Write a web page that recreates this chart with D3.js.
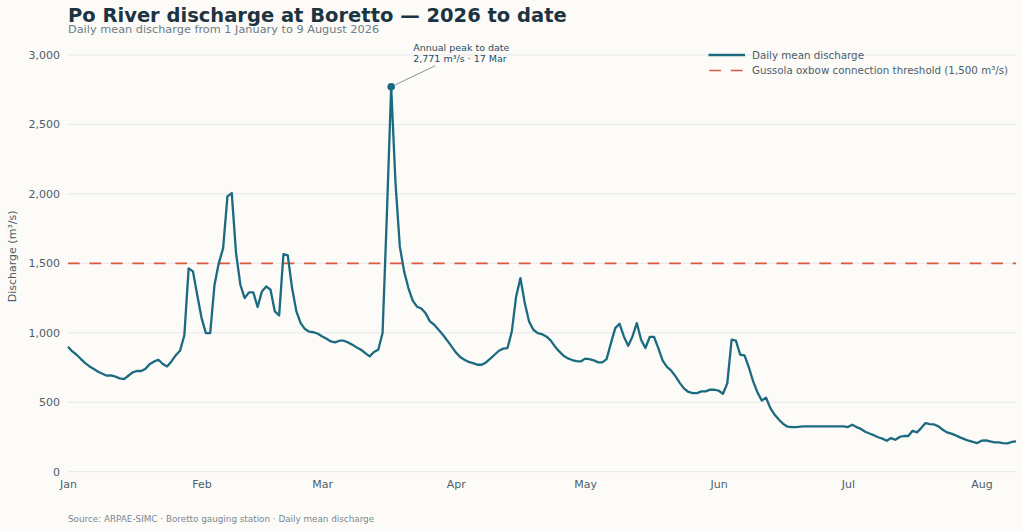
<!DOCTYPE html>
<html>
<head>
<meta charset="utf-8">
<script src="https://cdn.jsdelivr.net/npm/d3@7/dist/d3.min.js"></script>
<style>
  html, body { margin: 0; padding: 0; background: #fcfbf8; }
  svg { display: block; font-family: "DejaVu Sans", sans-serif; }
</style>
</head>
<body>
<script>
// daily mean discharge, m3/s, 1 Jan .. 9 Aug 2026
var startDay = '2026-01-01';
var endDay = '2026-08-09';
var discharge = [
  900, 866, 842, 811, 782, 758, 739, 720, 705, 691, 694, 684, 672, 667, 691, 715,
  725, 725, 742, 775, 794, 806, 775, 758, 794, 838, 871, 982, 1464, 1442, 1270,
  1106, 998, 998, 1346, 1502, 1610, 1982, 2006, 1574, 1346, 1250, 1291, 1291, 1186,
  1298, 1334, 1310, 1154, 1125, 1567, 1557, 1322, 1154, 1070, 1027, 1008, 1004, 993,
  974, 957, 938, 931, 943, 943, 931, 914, 895, 878, 854, 830, 862, 878, 998, 1850,
  2771, 2080, 1622, 1442, 1322, 1232, 1188, 1175, 1140, 1082, 1058, 1022, 986, 945,
  902, 859, 826, 806, 790, 782, 770, 770, 787, 814, 842, 871, 886, 890, 1010, 1262,
  1394, 1214, 1082, 1022, 998, 990, 974, 945, 902, 866, 835, 816, 804, 796, 794,
  814, 811, 802, 787, 787, 811, 926, 1034, 1065, 974, 907, 974, 1070, 950, 890, 970,
  970, 890, 799, 754, 727, 686, 638, 598, 574, 566, 566, 578, 578, 591, 590, 583,
  561, 636, 950, 944, 842, 838, 752, 650, 571, 512, 532, 458, 410, 374, 343, 324,
  321, 321, 324, 326, 326, 326, 326, 326, 326, 326, 326, 326, 326, 321, 338, 321,
  308, 288, 275, 263, 248, 238, 223, 242, 230, 250, 257, 257, 295, 283, 314, 350,
  343, 340, 326, 302, 283, 274, 262, 247, 235, 223, 214, 206, 223, 226, 218, 211,
  211, 206, 204, 214, 218
];
var yTicks = [0, 500, 1000, 1500, 2000, 2500, 3000];
var threshold = 1500;
var legendLabels = ['Daily mean discharge', 'Gussola oxbow connection threshold (1,500 m\u00b3/s)'];

var W = 1023, H = 531;
var plotL = 68, plotR = 1016, plotT = 55, plotB = 471.7;
var dash = '11.7,9.77';

var svg = d3.select('body').append('svg').attr('width', W).attr('height', H);

var parse = d3.utcParse('%Y-%m-%d');
var t0 = parse(startDay), t1 = parse(endDay);
var days = d3.utcDay.range(t0, d3.utcDay.offset(t1, 1));
var data = days.map(function (d, i) { return { date: d, v: discharge[i] }; });

var x = d3.scaleUtc().domain([t0, t1]).range([plotL, plotR]);
var y = d3.scaleLinear().domain([0, 3000]).range([plotB, plotT]);

// grid
svg.append('g').selectAll('line').data(yTicks).join('line')
  .attr('x1', plotL).attr('x2', plotR)
  .attr('y1', function (d) { return y(d); }).attr('y2', function (d) { return y(d); })
  .attr('stroke', '#e6e8ea').attr('stroke-width', 1);

// y axis
var yAxis = svg.append('g').attr('transform', 'translate(' + plotL + ',0)')
  .call(d3.axisLeft(y).tickValues(yTicks).tickFormat(d3.format(',')).tickSize(0).tickPadding(8));
yAxis.select('.domain').remove();
yAxis.selectAll('text').attr('fill', '#4e5d68').attr('font-size', 11)
  .attr('font-family', '"DejaVu Sans", sans-serif');

// x axis
var xAxis = svg.append('g').attr('transform', 'translate(0,' + plotB + ')')
  .call(d3.axisBottom(x).ticks(d3.utcMonth.every(1)).tickFormat(d3.utcFormat('%b')).tickSize(0).tickPadding(9));
xAxis.select('.domain').remove();
xAxis.selectAll('text').attr('fill', '#4e5d68').attr('font-size', 11)
  .attr('font-family', '"DejaVu Sans", sans-serif');

svg.append('text').attr('transform', 'translate(16,' + ((plotT + plotB) / 2 - 7) + ') rotate(-90)')
  .attr('text-anchor', 'middle').attr('font-size', 11).attr('fill', '#4e5d68')
  .text('Discharge (m\u00b3/s)');

// threshold
svg.append('line').attr('x1', plotL).attr('x2', plotR)
  .attr('y1', y(threshold)).attr('y2', y(threshold))
  .attr('stroke', '#d95a3c').attr('stroke-width', 1.7).attr('stroke-dasharray', dash);

// discharge line
var line = d3.line().x(function (d) { return x(d.date); }).y(function (d) { return y(d.v); });
svg.append('path').datum(data).attr('d', line)
  .attr('fill', 'none').attr('stroke', '#1b6a80').attr('stroke-width', 2.3)
  .attr('stroke-linejoin', 'round');

// peak
var pk = data[d3.maxIndex(data, function (d) { return d.v; })];
var px = x(pk.date), py = y(pk.v);
svg.append('line').attr('x1', px + 3).attr('y1', py - 1.5).attr('x2', px + 44).attr('y2', py - 21)
  .attr('stroke', '#8a949a').attr('stroke-width', 1);
svg.append('circle').attr('cx', px).attr('cy', py).attr('r', 3.8).attr('fill', '#1b6a80');
var ann = svg.append('text').attr('x', px + 22).attr('y', py - 36)
  .attr('font-size', 9.5).attr('fill', '#1e4d60');
ann.append('tspan').attr('x', px + 22).text('Annual peak to date');
ann.append('tspan').attr('x', px + 22).attr('dy', 11.5)
  .text(d3.format(',')(pk.v) + ' m\u00b3/s \u00b7 ' + d3.utcFormat('%-d %b')(pk.date));

// legend
var lg = svg.append('g').attr('transform', 'translate(708.5,55)');
lg.append('line').attr('x1', 0).attr('x2', 36.5).attr('y1', 0).attr('y2', 0)
  .attr('stroke', '#1b6a80').attr('stroke-width', 2.4);
lg.append('line').attr('x1', 0.8).attr('x2', 34).attr('y1', 15.5).attr('y2', 15.5)
  .attr('stroke', '#d95a3c').attr('stroke-width', 1.7).attr('stroke-dasharray', dash);
lg.selectAll('text').data(legendLabels).join('text')
  .attr('x', 43.5).attr('y', function (d, i) { return i * 15.5 + 3.6; })
  .attr('font-size', 10.3).attr('fill', '#4e5d68').text(function (d) { return d; });

// titles
svg.append('text').attr('x', plotL).attr('y', 22).attr('font-size', 19.5).attr('font-weight', 'bold')
  .attr('fill', '#1c3442').text('Po River discharge at Boretto \u2014 2026 to date');
svg.append('text').attr('x', plotL).attr('y', 32.5).attr('font-size', 11.3).attr('fill', '#6e7c86')
  .text('Daily mean discharge from 1 January to 9 August 2026');
svg.append('text').attr('x', plotL).attr('y', 522).attr('font-size', 8.8).attr('fill', '#7b8790')
  .text('Source: ARPAE-SIMC \u00b7 Boretto gauging station \u00b7 Daily mean discharge');
</script>
</body>
</html>
